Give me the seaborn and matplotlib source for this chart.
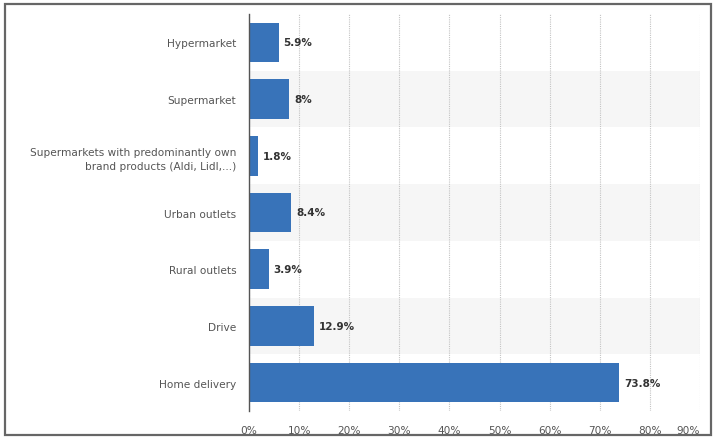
import pandas as pd
import matplotlib.pyplot as plt
import seaborn as sns
from matplotlib.patches import Rectangle

categories = [
    'Hypermarket',
    'Supermarket',
    'Supermarkets with predominantly own\nbrand products (Aldi, Lidl,...)',
    'Urban outlets',
    'Rural outlets',
    'Drive',
    'Home delivery',
]
shares = [5.9, 8, 1.8, 8.4, 3.9, 12.9, 73.8]
value_labels = ['5.9%', '8%', '1.8%', '8.4%', '3.9%', '12.9%', '73.8%']
x_ticks = [0, 10, 20, 30, 40, 50, 60, 70, 80, 90]

df = pd.DataFrame({'channel': categories, 'share': shares})

sns.set_style('white')
plt.rcParams['font.family'] = ['DejaVu Sans']

W, H = 714, 439
fig = plt.figure(figsize=(W / 100, H / 100), dpi=100)
ax = fig.add_axes([249 / W, 1 - 412 / H, (700 - 249) / W, (412 - 15) / H])

# alternating row shading
for i in range(len(categories)):
    if i % 2 == 1:
        ax.axhspan(i - 0.5, i + 0.5, color='#f6f6f6', zorder=0, lw=0)

sns.barplot(data=df, x='share', y='channel', orient='h', color='#3873b9',
            saturation=1, width=0.7, linewidth=0, ax=ax, zorder=3)

for i, (v, lab) in enumerate(zip(shares, value_labels)):
    ax.text(v + 1.0, i, lab, va='center', ha='left', fontsize=7.5,
            fontweight='bold', color='#333333', zorder=4)

ax.set_xlim(0, 90)
ax.set_ylim(len(categories) - 0.5, -0.5)
ax.set_xticks(x_ticks)
ax.set_xticklabels([f'{t}%' for t in x_ticks])
ax.get_xticklabels()[-1].set_horizontalalignment('right')
ax.set_xlabel('')
ax.set_ylabel('')
ax.tick_params(axis='both', length=0, labelsize=7.6, colors='#555555')
ax.tick_params(axis='x', pad=10)
ax.tick_params(axis='y', pad=9)
for lab in ax.get_yticklabels():
    lab.set_horizontalalignment('right')
    lab.set_multialignment('right')
    lab.set_linespacing(1.5)

ax.set_axisbelow('line')
ax.xaxis.grid(True, linestyle=(0, (1, 1)), color='#c4c4c4', linewidth=0.8)
for s in ['top', 'right', 'bottom']:
    ax.spines[s].set_visible(False)
ax.spines['left'].set_color('#555555')
ax.spines['left'].set_linewidth(1)
ax.spines['left'].set_zorder(5)

# outer frame
fig.patches.append(Rectangle((5 / W, 1 - 436 / H), (711 - 5) / W, (436 - 5) / H,
                             transform=fig.transFigure, fill=False,
                             edgecolor='#666666', linewidth=1.6))

fig.savefig('out.png', dpi=100)
